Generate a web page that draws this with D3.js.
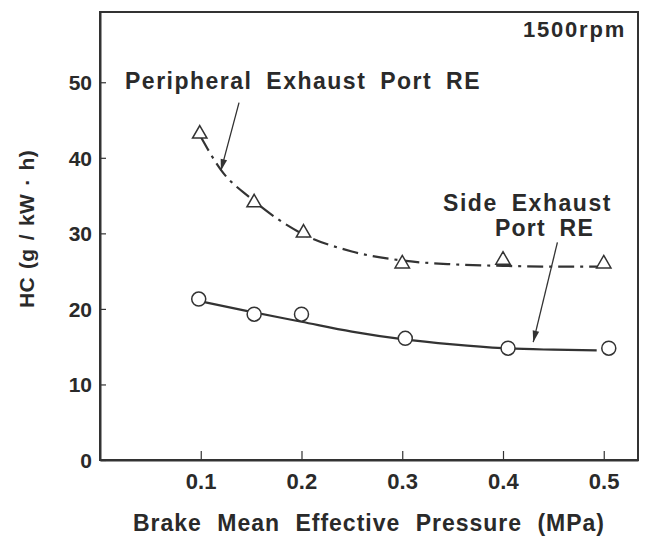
<!DOCTYPE html>
<html><head><meta charset="utf-8">
<script src="https://cdn.jsdelivr.net/npm/d3@7"></script>
<style>body{margin:0;background:#fff}svg{display:block}text{font-family:"Liberation Sans",Arial,sans-serif;font-weight:bold;fill:#2a2a2a}</style>
</head><body><svg id="c" width="650" height="538"></svg>
<script>
// Data
const periX = [0.099, 0.153, 0.202, 0.300, 0.400, 0.500];
const periY = [43.3, 34.2, 30.2, 26.1, 26.6, 26.1];
const sideX = [0.098, 0.153, 0.200, 0.303, 0.405, 0.505];
const sideY = [21.3, 19.3, 19.3, 16.1, 14.8, 14.8];
// fitted curves as drawn in the figure
const periFitX = [0.100, 0.120, 0.150, 0.200, 0.250, 0.300, 0.350, 0.400, 0.450, 0.500];
const periFitY = [42.8, 38.4, 34.6, 30.0, 27.6, 26.4, 25.9, 25.7, 25.6, 25.6];
const sideFitX = [0.100, 0.150, 0.200, 0.250, 0.300, 0.350, 0.400, 0.450, 0.493];
const sideFitY = [21.0, 19.6, 18.3, 17.0, 16.0, 15.3, 14.8, 14.6, 14.5];
const xTicks = [0.1, 0.2, 0.3, 0.4, 0.5];
const yTicks = [0, 10, 20, 30, 40, 50];

const svg = d3.select("#c");
const x = d3.scaleLinear().domain([0, 0.534]).range([100, 638]);
const y = d3.scaleLinear().domain([0, 59.3]).range([460, 12]);
const ink = "#333";

// frame
svg.append("rect").attr("x", x(0)).attr("y", y(59.3)).attr("width", x(0.534) - x(0)).attr("height", y(0) - y(59.3))
  .attr("fill", "none").attr("stroke", ink).attr("stroke-width", 2);

// fit text to a width by letter spacing
function fit(t, W, ws) {
  t.style("word-spacing", (ws || 0) + "px").style("letter-spacing", "0px");
  const n = t.text().length;
  const L = t.node().getComputedTextLength();
  t.style("letter-spacing", ((W - L) / n) + "px");
  return t;
}

// axes
const xAxis = d3.axisBottom(x).tickValues(xTicks).tickSizeInner(-9).tickSizeOuter(0).tickPadding(13).tickFormat(d3.format(".1f"));
const gx = svg.append("g").attr("transform", `translate(0,${y(0)})`).call(xAxis);
const yAxis = d3.axisLeft(y).tickValues(yTicks).tickSizeInner(-6).tickSizeOuter(0).tickPadding(8);
const gy = svg.append("g").attr("transform", `translate(${x(0)},0)`).call(yAxis);
[gx, gy].forEach(g => {
  g.select(".domain").attr("stroke", ink).attr("stroke-width", 2);
  g.selectAll(".tick line").attr("stroke", ink).attr("stroke-width", 1.2);
  g.selectAll(".tick text").style("font-size", "22px").attr("fill", "#2a2a2a")
    .style("font-family", '"Liberation Sans",Arial,sans-serif').style("font-weight", "bold");
});
gx.selectAll(".tick text").attr("dy", "0.71em").each(function () { fit(d3.select(this), 31); });
gy.selectAll(".tick text").attr("dy", "0.35em").style("font-size", "21px");

// curves
const line = d3.line().x(d => x(d[0])).y(d => y(d[1])).curve(d3.curveMonotoneX);
svg.append("path").datum(periFitX.map((v, i) => [v, periFitY[i]])).attr("d", line)
  .attr("fill", "none").attr("stroke", ink).attr("stroke-width", 2.2).attr("stroke-dasharray", "16,6,3,6");
svg.append("path").datum(sideFitX.map((v, i) => [v, sideFitY[i]])).attr("d", line)
  .attr("fill", "none").attr("stroke", ink).attr("stroke-width", 2.2);

// markers
const tri = d3.symbol().type(d3.symbolTriangle).size(90);
svg.selectAll(".tri").data(periX.map((v, i) => [v, periY[i]])).enter().append("path")
  .attr("transform", d => `translate(${x(d[0])},${y(d[1]) + 1})`).attr("d", tri)
  .attr("fill", "#fff").attr("stroke", ink).attr("stroke-width", 1.5);
svg.selectAll(".cir").data(sideX.map((v, i) => [v, sideY[i]])).enter().append("circle")
  .attr("cx", d => x(d[0])).attr("cy", d => y(d[1])).attr("r", 7)
  .attr("fill", "#fff").attr("stroke", ink).attr("stroke-width", 1.5);

// arrows
function arrow(x1, y1, x2, y2) {
  svg.append("line").attr("x1", x1).attr("y1", y1).attr("x2", x2).attr("y2", y2).attr("stroke", ink).attr("stroke-width", 1.3);
  const a = Math.atan2(y2 - y1, x2 - x1), L = 12, w = 0.28;
  const p = [[x2, y2], [x2 - L * Math.cos(a - w), y2 - L * Math.sin(a - w)], [x2 - L * Math.cos(a + w), y2 - L * Math.sin(a + w)]];
  svg.append("path").attr("d", "M" + p.join("L") + "Z").attr("fill", ink);
}
arrow(x(0.138), y(47.3), x(0.120), y(38.3));
arrow(x(0.454), y(28.8), x(0.430), y(15.6));

// texts (x = left edge, y = baseline)
function txt(s, left, base, size, W, ws) {
  const t = svg.append("text").attr("x", left).attr("y", base).style("font-size", size + "px").text(s);
  return fit(t, W, ws);
}
txt("1500rpm", 523, 37, 22, 103, 0);
txt("Peripheral Exhaust Port RE", 125, 89, 23, 356, 6);
txt("Side Exhaust", 443, 211, 23, 169, 6);
txt("Port RE", 495, 236, 23, 99, 6);
txt("Brake Mean Effective Pressure (MPa)", 133, 531, 23, 472, 8);
const yt = svg.append("text").attr("transform", "translate(34,308) rotate(-90)").attr("x", 0).attr("y", 0)
  .style("font-size", "21px").text("HC (g / kW · h)");
fit(yt, 158, 2);
</script></body></html>
